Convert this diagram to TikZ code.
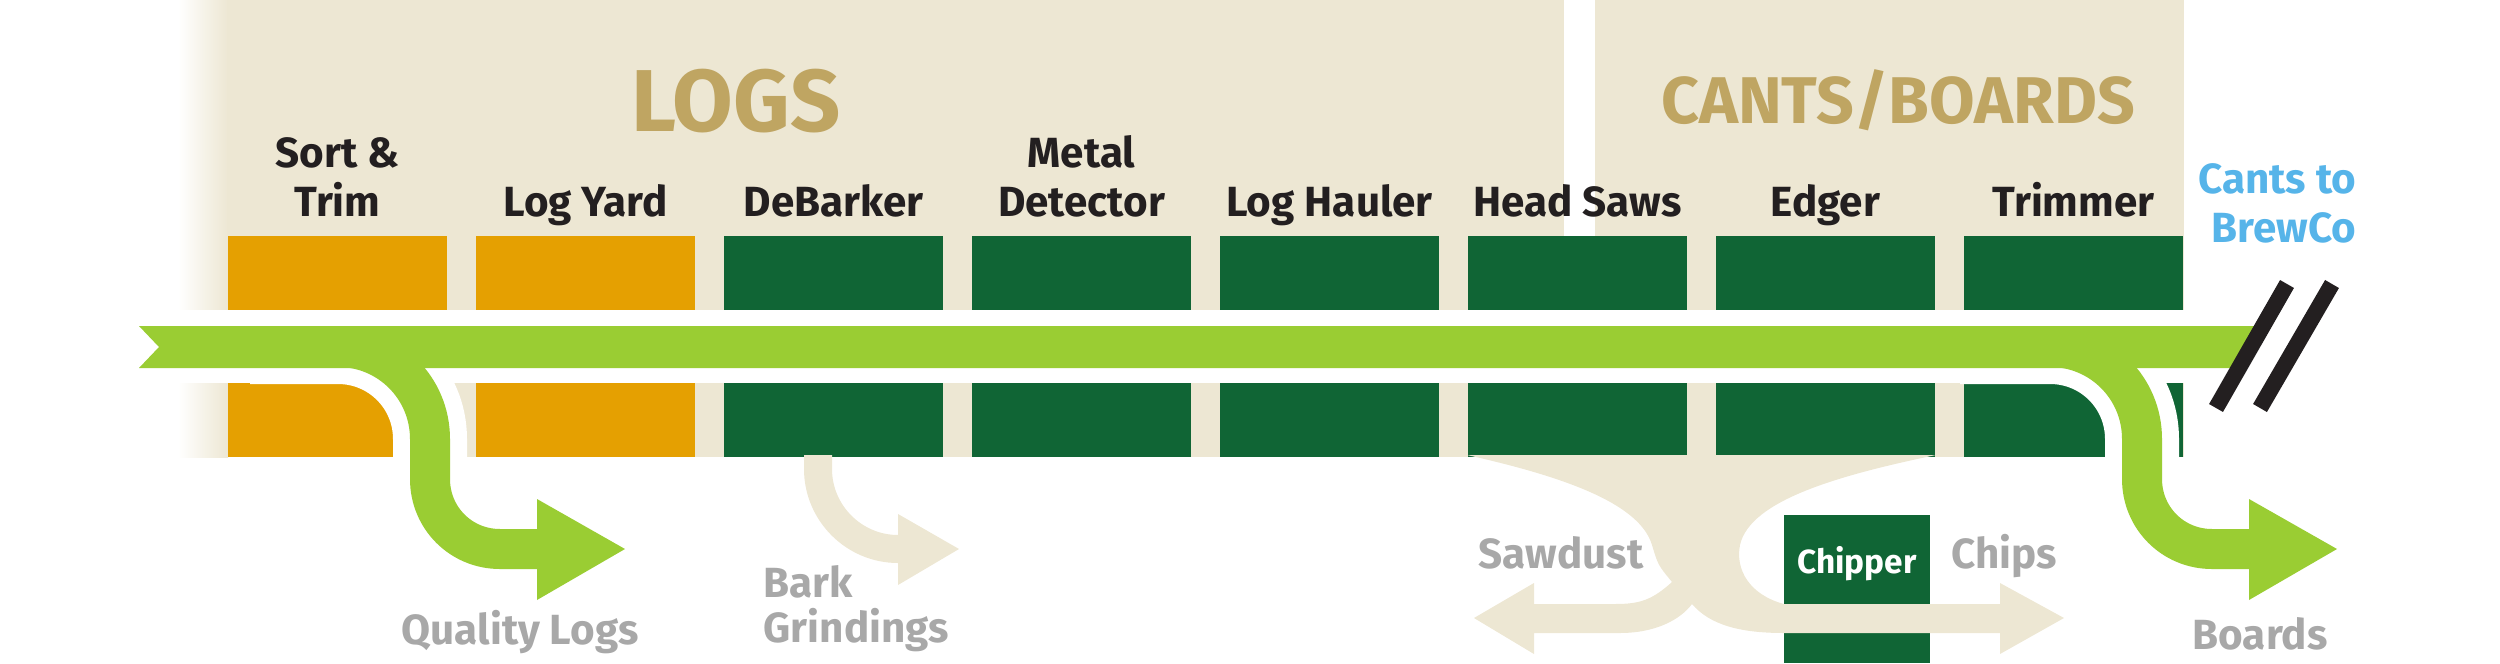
\documentclass[tikz,border=0pt]{standalone}
\usepackage{fontspec}
\setmainfont{Fira Sans}
\usepackage{tikz}

\definecolor{sand}{RGB}{237,231,211}
\definecolor{ochre}{RGB}{229,160,1}
\definecolor{pine}{RGB}{16,101,53}
\definecolor{lime}{RGB}{154,205,51}
\definecolor{gold}{RGB}{191,165,98}
\definecolor{ink}{RGB}{35,31,32}
\definecolor{sky}{RGB}{86,180,233}
\definecolor{ash}{RGB}{168,168,168}

\begin{document}
\begin{tikzpicture}[x=0.1mm,y=-0.1mm,
  stagebox/.style={rectangle,minimum width=21.9mm,minimum height=7.4mm,inner sep=0pt},
  stage/.style={font=\fontsize{12}{14}\selectfont\bfseries,text=ink,inner sep=0pt,anchor=base},
  product/.style={font=\fontsize{12}{14}\selectfont\bfseries,text=ash,inner sep=0pt},
  section/.style={text=gold,inner sep=0pt,anchor=base},
  whiteline/.style={white,line width=7.4mm},
  greenline/.style={lime,line width=4mm},
  wasteline/.style={sand,line width=2.8mm},
  slash/.style={ink,line width=1.6mm}]
\useasboundingbox (0,0) rectangle (2500,663);
\shade [left color=white,right color=sand] (178,0) rectangle (228,457);
\fill [sand] (227,0) rectangle (2184,457);
\fill [white] (0,310) rectangle (2500,383);
\fill [white] (1564,0) rectangle (1595,236);
\node (sortup)   at (337.5,273)  [stagebox,fill=ochre] {};
\node (yardup)   at (585.5,273)  [stagebox,fill=ochre] {};
\node (barkup)   at (833.5,273)  [stagebox,fill=pine] {};
\node (metalup)  at (1081.5,273) [stagebox,fill=pine] {};
\node (haulup)   at (1329.5,273) [stagebox,fill=pine] {};
\node (sawup)    at (1577.5,273) [stagebox,fill=pine] {};
\node (edgeup)   at (1825.5,273) [stagebox,fill=pine] {};
\node (trimup)   at (2073.5,273) [stagebox,fill=pine] {};
\node (sortlow)  at (337.5,420)  [stagebox,fill=ochre] {};
\node (yardlow)  at (585.5,420)  [stagebox,fill=ochre] {};
\node (barklow)  at (833.5,420)  [stagebox,fill=pine] {};
\node (metallow) at (1081.5,420) [stagebox,fill=pine] {};
\node (haullow)  at (1329.5,420) [stagebox,fill=pine] {};
\node (sawlow)   at (1577.5,420) [stagebox,fill=pine] {};
\node (edgelow)  at (1825.5,420) [stagebox,fill=pine] {};
\node (trimlow)  at (2073.5,420) [stagebox,fill=pine] {};
\node (chipper)  at (1857,589)   [rectangle,minimum width=14.6mm,minimum height=14.8mm,inner sep=0pt,fill=pine] {};
\draw [wasteline] (818,455) -- (818,469) .. controls (818,513) and (854,549) .. (898,549) -- (902,549);
\fill [sand] (898,514) -- (959,549) -- (898,585) -- cycle;
\fill [sand] (1467,455) .. controls (1570,478) and (1640,505) .. (1652,545)
  .. controls (1658,565) .. (1672,582) .. controls (1652,600) and (1640,604) .. (1615,604)
  -- (1534,604) -- (1534,583) -- (1474,618) -- (1534,654) -- (1534,633) -- (1620,633)
  .. controls (1655,633) and (1680,620) .. (1692,604) .. controls (1710,625) and (1740,633) .. (1784,633)
  -- (2000,633) -- (2000,654) -- (2064,618) -- (2000,583) -- (2000,604) -- (1784,604)
  .. controls (1750,595) and (1735,570) .. (1740,545) .. controls (1750,500) and (1840,475) .. (1936,455) -- cycle;
\draw [whiteline] (250,347) -- (338,347) .. controls (389,347) and (430,388) .. (430,439) -- (430,479) .. controls (430,518) and (461,549) .. (500,549) -- (540,549);
\draw [whiteline] (1960,347) -- (2050,347) .. controls (2101,347) and (2142,388) .. (2142,439) -- (2142,479) .. controls (2142,518) and (2173,549) .. (2212,549) -- (2252,549);
\fill [lime] (139,326) -- (2262,326) -- (2238,368) -- (139,368) -- (159,347) -- cycle;
\draw [greenline] (250,347) -- (338,347) .. controls (389,347) and (430,388) .. (430,439) -- (430,479) .. controls (430,518) and (461,549) .. (500,549) -- (540,549);
\fill [lime] (537,499) -- (625,549) -- (537,600) -- cycle;
\draw [greenline] (1960,347) -- (2050,347) .. controls (2101,347) and (2142,388) .. (2142,439) -- (2142,479) .. controls (2142,518) and (2173,549) .. (2212,549) -- (2252,549);
\fill [lime] (2249,499) -- (2337,549) -- (2249,600) -- cycle;
\draw [slash] (2216,408) -- (2287,284);
\draw [slash] (2260,408) -- (2332,284);
\node (logs)   at (736,131)  [section,font=\fontsize{25}{28}\selectfont\bfseries] {LOGS};
\node (cants)  at (1898,123) [section,font=\fontsize{18.8}{22}\selectfont\bfseries] {CANTS/BOARDS};
\node (sorta)  at (337.5,167)  [stage] {Sort \&};
\node (sortb)  at (337.5,216)  [stage] {Trim};
\node (yard)   at (585.5,216)  [stage] {Log Yard};
\node (debark) at (833.5,216)  [stage] {DeBarker};
\node (metala) at (1081.5,167) [stage] {Metal};
\node (metalb) at (1081.5,216) [stage] {Detector};
\node (haul)   at (1329.5,216) [stage] {Log Hauler};
\node (saws)   at (1577.5,216) [stage] {Head Saws};
\node (edger)  at (1825.5,216) [stage] {Edger};
\node (trim)   at (2073.5,216) [stage] {Trimmer};
\node (brewa)  at (2357,193) [stage,anchor=base east,text=sky] {Cants to};
\node (brewb)  at (2357,242) [stage,anchor=base east,text=sky] {BrewCo};
\node (chiptx) at (1857,573) [stage,font=\fontsize{9.5}{11}\selectfont\bfseries,text=white] {Chipper};
\node (quality) at (520,644) [product,anchor=base] {Quality Logs};
\node (barka)  at (763,597)  [product,anchor=base west] {Bark};
\node (barkb)  at (763,642)  [product,anchor=base west] {Grindings};
\node (dust)   at (1478,568) [product,anchor=base west] {Sawdust};
\node (chips)  at (1951,568) [product,anchor=base west] {Chips};
\node (boards) at (2260,649) [product,anchor=base] {Boards};
\end{tikzpicture}
\end{document}
